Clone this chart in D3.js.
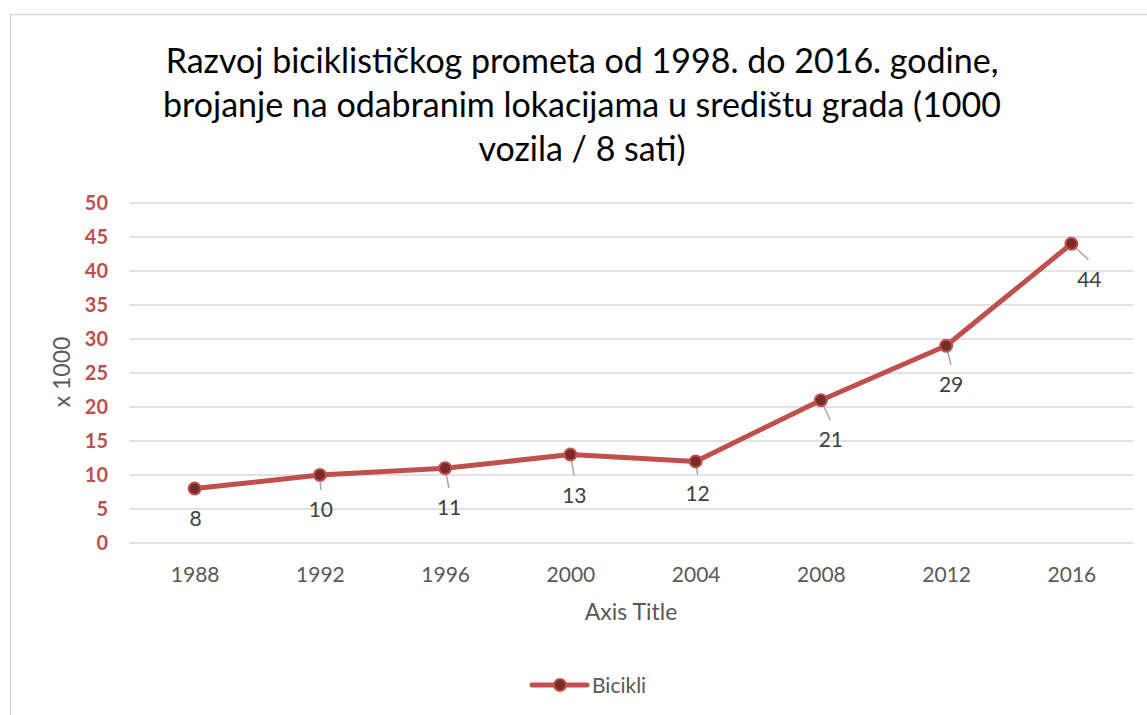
<!DOCTYPE html>
<html>
<head>
<meta charset="utf-8">
<script src="https://cdn.jsdelivr.net/npm/d3@7"></script>
<style>
  body { margin: 0; background: #fff; }
  text { font-family: Lato, "Open Sans", sans-serif; }
</style>
</head>
<body>
<div id="chart"></div>
<script>
// data
var years = ["1988", "1992", "1996", "2000", "2004", "2008", "2012", "2016"];
var bicikli = [8, 10, 11, 13, 12, 21, 29, 44];
var yTicks = [0, 5, 10, 15, 20, 25, 30, 35, 40, 45, 50];
var titleLines = [
    "Razvoj biciklističkog prometa od 1998. do 2016. godine,",
    "brojanje na odabranim lokacijama u središtu grada (1000",
    "vozila / 8 sati)"
];
// label offsets from each point (layout only)
var labelDx = [1, 1, 4, 4, 2, 10, 5, 18];
var labelDy = [37, 42, 47, 48, 40, 47, 46, 43];

var w = 1147, h = 715;
var red = "#C0504D";

var svg = d3.select("#chart")
            .append("svg")
            .attr("width", w)
            .attr("height", h);

// chart border
svg.append("rect")
   .attr("x", 10.5).attr("y", 14.5)
   .attr("width", w).attr("height", h)
   .attr("fill", "none")
   .attr("stroke", "#D9D9D9")
   .attr("stroke-width", 1.5);

// title
svg.append("g").selectAll("text")
   .data(titleLines)
   .enter()
   .append("text")
   .attr("x", 582)
   .attr("y", function(d, i) { return 73 + i * 44; })
   .attr("text-anchor", "middle")
   .attr("font-size", 34)
   .attr("fill", "#000")
   .text(function(d) { return d; });

var xScale = d3.scalePoint()
               .domain(years)
               .range([132, 1134])
               .padding(0.5);

var yScale = d3.scaleLinear()
               .domain([0, 50])
               .range([543, 203]);

// gridlines
svg.append("g").selectAll("line")
   .data(yTicks)
   .enter()
   .append("line")
   .attr("x1", 130).attr("x2", 1133)
   .attr("y1", function(d) { return yScale(d); })
   .attr("y2", function(d) { return yScale(d); })
   .attr("stroke", "#D9D9D9")
   .attr("stroke-width", 1.5);

// y axis
var yAxis = svg.append("g")
   .attr("transform", "translate(108,0)")
   .call(d3.axisLeft(yScale).tickValues(yTicks).tickSize(0).tickPadding(0));
yAxis.select(".domain").remove();
yAxis.selectAll("text")
   .attr("font-family", "Lato, sans-serif")
   .attr("font-size", 20)
   .attr("font-weight", "bold")
   .attr("fill", red);

// x axis
var xAxis = svg.append("g")
   .attr("transform", "translate(0,543)")
   .call(d3.axisBottom(xScale).tickSize(0).tickPadding(24));
xAxis.select(".domain").remove();
xAxis.selectAll("text")
   .attr("font-family", "Lato, sans-serif")
   .attr("font-size", 21)
   .attr("fill", "#595959");

// axis titles
svg.append("text")
   .attr("transform", "translate(70,372) rotate(-90)")
   .attr("text-anchor", "middle")
   .attr("font-size", 23)
   .attr("fill", "#595959")
   .text("x 1000");

svg.append("text")
   .attr("x", 631).attr("y", 620)
   .attr("text-anchor", "middle")
   .attr("font-size", 23)
   .attr("fill", "#595959")
   .text("Axis Title");

// line
var line = d3.line()
    .x(function(d, i) { return xScale(years[i]); })
    .y(function(d) { return yScale(d); });

svg.append("path")
   .datum(bicikli)
   .attr("d", line)
   .attr("fill", "none")
   .attr("stroke", red)
   .attr("stroke-width", 5)
   .attr("stroke-linejoin", "round");

// leader lines
svg.append("g").selectAll("line")
   .data(bicikli)
   .enter()
   .filter(function(d, i) { return i > 0; })
   .append("line")
   .attr("x1", function(d, i) { return xScale(years[i + 1]); })
   .attr("y1", function(d) { return yScale(d); })
   .attr("x2", function(d, i) { return xScale(years[i + 1]) + labelDx[i + 1] * 0.95; })
   .attr("y2", function(d, i) { return yScale(d) + labelDy[i + 1] - 27; })
   .attr("stroke", "#A6A6A6")
   .attr("stroke-width", 1.5);

// markers
svg.append("g").selectAll("circle")
   .data(bicikli)
   .enter()
   .append("circle")
   .attr("cx", function(d, i) { return xScale(years[i]); })
   .attr("cy", function(d) { return yScale(d); })
   .attr("r", 6)
   .attr("fill", "#772C2A")
   .attr("stroke", red)
   .attr("stroke-width", 2);

// data labels
svg.append("g").selectAll("text")
   .data(bicikli)
   .enter()
   .append("text")
   .attr("x", function(d, i) { return xScale(years[i]) + labelDx[i]; })
   .attr("y", function(d, i) { return yScale(d) + labelDy[i]; })
   .attr("text-anchor", "middle")
   .attr("font-size", 21)
   .attr("fill", "#404040")
   .text(function(d) { return d; });

// legend
var lg = svg.append("g").attr("transform", "translate(0,685)");
lg.append("line")
  .attr("x1", 532).attr("x2", 587)
  .attr("stroke", red).attr("stroke-width", 5)
  .attr("stroke-linecap", "round");
lg.append("circle")
  .attr("cx", 560).attr("r", 6)
  .attr("fill", "#772C2A").attr("stroke", red).attr("stroke-width", 2);
lg.append("text")
  .attr("x", 592).attr("y", 8)
  .attr("font-size", 21)
  .attr("fill", "#595959")
  .text("Bicikli");
</script>
</body>
</html>
